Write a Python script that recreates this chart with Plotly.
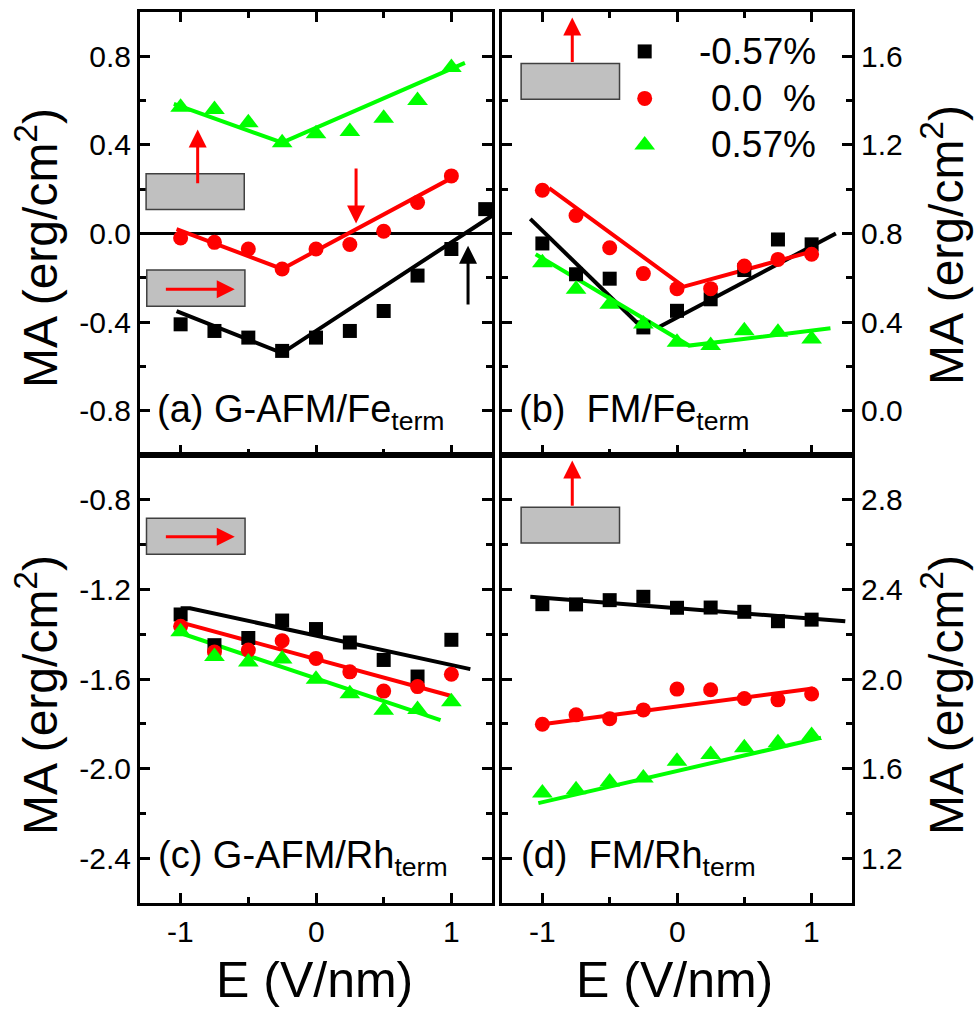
import plotly.graph_objects as go

W, H = 977, 1010

# ---------------- data ----------------
E = [-1.0, -0.75, -0.5, -0.25, 0.0, 0.25, 0.5, 0.75, 1.0]
E_ext = [-1.0, -0.75, -0.5, -0.25, 0.0, 0.25, 0.5, 0.75, 1.0, 1.25]

# (a) G-AFM / Fe-terminated
a_m057 = [-0.41, -0.44, -0.47, -0.53, -0.47, -0.44, -0.35, -0.19, -0.07, 0.11]
a_000 = [-0.02, -0.04, -0.07, -0.16, -0.07, -0.05, 0.01, 0.14, 0.26]
a_p057 = [0.57, 0.56, 0.50, 0.41, 0.45, 0.46, 0.52, 0.60, 0.75]
a_fit_m057_x = [-1.03, -0.25, 1.30]
a_fit_m057_y = [-0.35, -0.54, 0.08]
a_fit_000_x = [-1.03, -0.25, 1.0]
a_fit_000_y = [0.02, -0.16, 0.25]
a_fit_p057_x = [-1.05, -0.25, 1.10]
a_fit_p057_y = [0.585, 0.41, 0.77]

# (b) FM / Fe-terminated
b_m057 = [0.755, 0.616, 0.596, 0.376, 0.451, 0.503, 0.635, 0.773, 0.751]
b_000 = [0.995, 0.881, 0.736, 0.619, 0.551, 0.551, 0.653, 0.683, 0.706]
b_p057 = [0.668, 0.548, 0.481, 0.391, 0.309, 0.294, 0.361, 0.354, 0.324]
b_fit_m057_x = [-1.09, -0.28, None, -0.14, 1.18]
b_fit_m057_y = [0.866, 0.387, None, 0.376, 0.80]
b_fit_000_x = [-0.95, 0.05, 1.01]
b_fit_000_y = [1.005, 0.56, 0.72]
b_fit_p057_x = [-1.05, 0.09, 1.14]
b_fit_p057_y = [0.706, 0.294, 0.372]

# (c) G-AFM / Rh-terminated
c_m057 = [-1.312, -1.449, -1.417, -1.339, -1.377, -1.437, -1.515, -1.589, -1.425]
c_000 = [-1.365, -1.479, -1.471, -1.429, -1.508, -1.568, -1.654, -1.634, -1.579]
c_p057 = [-1.389, -1.499, -1.524, -1.511, -1.601, -1.666, -1.739, -1.736, -1.702]
c_fit_m057_x = [-1.0, -0.93, 1.14]
c_fit_m057_y = [-1.284, -1.284, -1.556]
c_fit_000_x = [-1.0, 1.0]
c_fit_000_y = [-1.347, -1.676]
c_fit_p057_x = [-1.03, 0.92]
c_fit_p057_y = [-1.389, -1.784]

# (d) FM / Rh-terminated
d_m057 = [2.334, 2.333, 2.352, 2.367, 2.318, 2.319, 2.300, 2.258, 2.265]
d_000 = [1.798, 1.840, 1.823, 1.862, 1.955, 1.952, 1.913, 1.907, 1.933]
d_p057 = [1.491, 1.506, 1.540, 1.558, 1.633, 1.663, 1.693, 1.715, 1.748]
d_fit_m057_x = [-1.09, 1.25]
d_fit_m057_y = [2.367, 2.258]
d_fit_000_x = [-1.0, 1.01]
d_fit_000_y = [1.798, 1.958]
d_fit_p057_x = [-1.03, 1.07]
d_fit_p057_y = [1.446, 1.738]

series_names = ["-0.57%", "0.0\u00a0\u00a0%", "0.57%"]
x_ticks = [-1, 0, 1]
x_ticktext = ["-1", "0", "1"]
ya_ticks = [-0.8, -0.4, 0.0, 0.4, 0.8]
ya_text = ["-0.8", "-0.4", "0.0", "0.4", "0.8"]
yb_ticks = [0.0, 0.4, 0.8, 1.2, 1.6]
yb_text = ["0.0", "0.4", "0.8", "1.2", "1.6"]
yc_ticks = [-2.4, -2.0, -1.6, -1.2, -0.8]
yc_text = ["-2.4", "-2.0", "-1.6", "-1.2", "-0.8"]
yd_ticks = [1.2, 1.6, 2.0, 2.4, 2.8]
yd_text = ["1.2", "1.6", "2.0", "2.4", "2.8"]

# ---------------- styles ----------------
BLACK, RED, GREEN = "#000000", "#ff0000", "#00ff00"
colors = [BLACK, RED, GREEN]
symbols = ["square", "circle", "triangle-up"]
msizes = [14, 15, 18]
LW = 4
FONT = "Liberation Sans, Arial, sans-serif"
NARROW = "Liberation Sans Narrow, Arial Narrow, Liberation Sans, Arial, sans-serif"


def px_x(p):
    return p / W


def px_y(p):
    return 1 - p / H


fig = go.Figure()

panels = [
    ("x", "y", [(E_ext, a_m057), (E, a_000), (E, a_p057)],
     [(a_fit_m057_x, a_fit_m057_y), (a_fit_000_x, a_fit_000_y), (a_fit_p057_x, a_fit_p057_y)]),
    ("x2", "y2", [(E, b_m057), (E, b_000), (E, b_p057)],
     [(b_fit_m057_x, b_fit_m057_y), (b_fit_000_x, b_fit_000_y), (b_fit_p057_x, b_fit_p057_y)]),
    ("x3", "y3", [(E, c_m057), (E, c_000), (E, c_p057)],
     [(c_fit_m057_x, c_fit_m057_y), (c_fit_000_x, c_fit_000_y), (c_fit_p057_x, c_fit_p057_y)]),
    ("x4", "y4", [(E, d_m057), (E, d_000), (E, d_p057)],
     [(d_fit_m057_x, d_fit_m057_y), (d_fit_000_x, d_fit_000_y), (d_fit_p057_x, d_fit_p057_y)]),
]

for xa, ya, pts, fits in panels:
    for i, (fx, fy) in enumerate(fits):
        fig.add_trace(go.Scatter(x=fx, y=fy, xaxis=xa, yaxis=ya, mode="lines",
                                 line=dict(color=colors[i], width=LW),
                                 showlegend=False, hoverinfo="skip"))
    for i, (px_, py_) in enumerate(pts):
        fig.add_trace(go.Scatter(x=px_, y=py_, xaxis=xa, yaxis=ya, mode="markers",
                                 marker=dict(symbol=symbols[i], size=msizes[i],
                                             color=colors[i], line=dict(width=0)),
                                 name=series_names[i], showlegend=False))

# legend drawn inside panel (b)
leg_x = -0.24
leg_y = [1.622, 1.410, 1.200]
for i in range(3):
    fig.add_trace(go.Scatter(x=[leg_x], y=[leg_y[i]], xaxis="x2", yaxis="y2", mode="markers",
                             marker=dict(symbol=symbols[i], size=msizes[i], color=colors[i]),
                             showlegend=False, hoverinfo="skip"))
    fig.add_annotation(x=1.045, y=leg_y[i], xref="x2", yref="y2", text=series_names[i],
                       showarrow=False, xanchor="right", yanchor="middle",
                       font=dict(family=FONT, size=37, color="black"))

# ---------------- axes ----------------
XL = [140, 492]
XR = [502, 852]
YT = [12, 455]
YB = [455, 903]


def xdom(a):
    return [px_x(a[0]), px_x(a[1])]


def ydom(a):
    return [px_y(a[1]), px_y(a[0])]


common = dict(showline=True, linecolor="black", linewidth=3, ticks="inside",
              tickwidth=3, tickcolor="black", showgrid=False, zeroline=False,
              tickfont=dict(family=FONT, size=30, color="black"))

xcommon = dict(common, range=[-1.3, 1.3], tickmode="array", tickvals=x_ticks,
               ticktext=x_ticktext, ticklen=10, showticklabels=False,
               minor=dict(dtick=0.5, tick0=0, ticks="inside", ticklen=6,
                          tickwidth=3, tickcolor="black"))

fig.update_layout(
    xaxis=dict(xcommon, domain=xdom(XL), anchor="y", mirror="allticks"),
    xaxis2=dict(xcommon, domain=xdom(XR), anchor="y2", mirror="allticks"),
    xaxis3=dict(xcommon, domain=xdom(XL), anchor="y3", mirror=True),
    xaxis4=dict(xcommon, domain=xdom(XR), anchor="y4", mirror=True),
)

# x tick labels of the bottom row, set a little closer to the axis line
for xr in ["x3", "x4"]:
    for v, t in zip(x_ticks, x_ticktext):
        fig.add_annotation(x=v, y=px_y(931), xref=xr, yref="paper", text=t,
                           showarrow=False, xanchor="center", yanchor="middle",
                           font=dict(family=FONT, size=30, color="black"))


def yaxis(rng, vals, text, dom, anchor, side, zero=False):
    return dict(common, range=rng, domain=ydom(dom), anchor=anchor, side=side,
                tickmode="array", tickvals=vals, ticktext=text, ticklen=10,
                mirror="allticks", zeroline=zero, zerolinecolor="black", zerolinewidth=3,
                minor=dict(dtick=0.2, tick0=0, ticks="inside", ticklen=6,
                           tickwidth=3, tickcolor="black"))


fig.update_layout(
    yaxis=yaxis([-1.0, 1.0], ya_ticks, ya_text, YT, "x", "left", zero=True),
    yaxis2=yaxis([-0.2, 1.8], yb_ticks, yb_text, YT, "x2", "right"),
    yaxis3=yaxis([-2.6, -0.6], yc_ticks, yc_text, YB, "x3", "left"),
    yaxis4=yaxis([1.0, 3.0], yd_ticks, yd_text, YB, "x4", "right"),
)

# ---------------- schematic insets (magnetisation direction) ----------------
boxes = [
    ("x", "y", -1.255, -0.53, 0.108, 0.27),
    ("x", "y", -1.25, -0.525, -0.328, -0.165),
    ("x2", "y2", -1.158, -0.427, 1.406, 1.567),
    ("x3", "y3", -1.252, -0.524, -1.043, -0.882),
    ("x4", "y4", -1.158, -0.427, 2.607, 2.767),
]
for xr, yr, x0, x1, y0, y1 in boxes:
    fig.add_shape(type="rect", xref=xr, yref=yr, x0=x0, x1=x1, y0=y0, y1=y1,
                  fillcolor="#c0c0c0", line=dict(color="#404040", width=1.5), layer="above")

arrows = [
    ("x", "y", -0.874, 0.22, -0.874, 0.47, RED),
    ("x", "y", 0.296, 0.30, 0.296, 0.045, RED),
    ("x", "y", -1.12, -0.252, -0.60, -0.252, RED),
    ("x", "y", 1.123, -0.327, 1.123, -0.055, BLACK),
    ("x2", "y2", -0.778, 1.567, -0.778, 1.775, RED),
    ("x3", "y3", -1.12, -0.965, -0.60, -0.965, RED),
    ("x4", "y4", -0.778, 2.767, -0.778, 2.975, RED),
]
for xr, yr, x0, y0, x1, y1, col in arrows:
    fig.add_annotation(x=x1, y=y1, ax=x0, ay=y0, xref=xr, yref=yr, axref=xr, ayref=yr,
                       text="", showarrow=True, arrowhead=2, arrowsize=1.2,
                       arrowwidth=3, arrowcolor=col, standoff=0, startstandoff=0)

# ---------------- panel labels ----------------
labels = [
    ("(a) G-AFM/Fe<sub>term</sub>", 155, 412),
    ("(b)\u00a0 FM/Fe<sub>term</sub>", 517, 412),
    ("(c) G-AFM/Rh<sub>term</sub>", 156, 858),
    ("(d)\u00a0 FM/Rh<sub>term</sub>", 519, 858),
]
for txt, lx, ly in labels:
    fig.add_annotation(x=px_x(lx), y=px_y(ly), xref="paper", yref="paper", text=txt,
                       showarrow=False, xanchor="left", yanchor="middle",
                       font=dict(family=FONT, size=38, color="black"))

# ---------------- axis titles ----------------
ytitle = "MA (erg/cm<sup>2</sup>)"
for tx, ty in [(37, 248), (37, 695), (943, 245), (943, 695)]:
    fig.add_annotation(x=px_x(tx), y=px_y(ty), xref="paper", yref="paper", text=ytitle,
                       textangle=-90, showarrow=False, xanchor="center", yanchor="middle",
                       font=dict(family=NARROW, size=48, color="black"))
for tx in [314, 674]:
    fig.add_annotation(x=px_x(tx), y=px_y(980), xref="paper", yref="paper", text="E (V/nm)",
                       showarrow=False, xanchor="center", yanchor="middle",
                       font=dict(family=NARROW, size=50, color="black"))

fig.update_layout(width=W, height=H, margin=dict(l=0, r=0, t=0, b=0),
                  paper_bgcolor="white", plot_bgcolor="white", showlegend=False)

fig.write_html("out.html")
